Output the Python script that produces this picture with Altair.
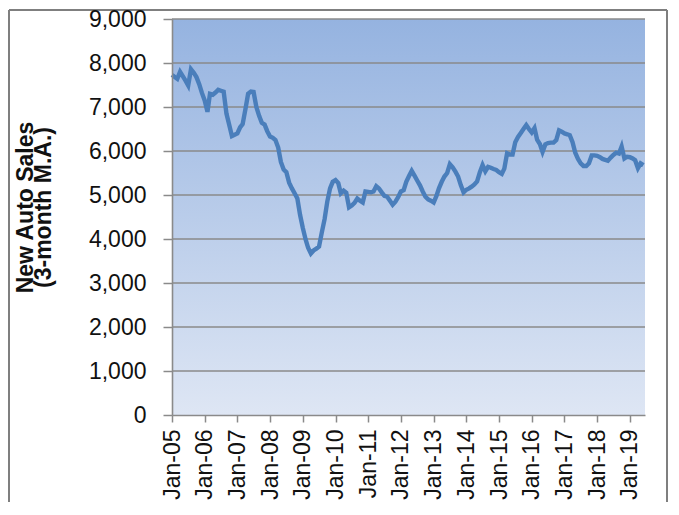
import altair as alt
import pandas as pd

# Monthly new auto sales, 3-month moving average (Jan-2005 .. Jun-2019)
sales_2005 = [7730, 7680, 7640, 7800, 7700, 7600, 7490, 7860, 7780, 7680, 7520, 7320]
sales_2006 = [7150, 6890, 7300, 7280, 7330, 7390, 7370, 7350, 6850, 6600, 6340, 6370]
sales_2007 = [6400, 6540, 6610, 6950, 7300, 7350, 7340, 7000, 6800, 6640, 6600, 6450]
sales_2008 = [6330, 6300, 6250, 6080, 5750, 5580, 5520, 5280, 5150, 5040, 4920, 4550]
sales_2009 = [4250, 3990, 3800, 3670, 3740, 3780, 3830, 4150, 4450, 4850, 5150, 5300]
sales_2010 = [5340, 5270, 5040, 5100, 5050, 4720, 4760, 4820, 4920, 4870, 4830, 5080]
sales_2011 = [5070, 5060, 5080, 5200, 5150, 5060, 4980, 4960, 4870, 4780, 4850, 4950]
sales_2012 = [5080, 5110, 5300, 5430, 5550, 5440, 5330, 5220, 5080, 4960, 4900, 4870]
sales_2013 = [4830, 4980, 5150, 5300, 5420, 5500, 5700, 5630, 5530, 5420, 5220, 5060]
sales_2014 = [5120, 5150, 5190, 5240, 5310, 5520, 5680, 5540, 5640, 5620, 5590, 5570]
sales_2015 = [5520, 5480, 5600, 5950, 5920, 5920, 6200, 6320, 6410, 6500, 6590, 6500]
sales_2016 = [6420, 6520, 6260, 6160, 5980, 6150, 6180, 6190, 6190, 6250, 6470, 6440]
sales_2017 = [6400, 6380, 6360, 6200, 5960, 5820, 5720, 5660, 5660, 5720, 5900, 5900]
sales_2018 = [5890, 5860, 5820, 5800, 5780, 5850, 5910, 5960, 5940, 6100, 5830, 5870]
sales_2019 = [5860, 5830, 5790, 5610, 5720, 5680]

tick_years = list(range(2005, 2020))
y_ticks = [0, 1000, 2000, 3000, 4000, 5000, 6000, 7000, 8000, 9000]
grid_vals = y_ticks[1:]

values = (sales_2005 + sales_2006 + sales_2007 + sales_2008 + sales_2009 + sales_2010
          + sales_2011 + sales_2012 + sales_2013 + sales_2014 + sales_2015 + sales_2016
          + sales_2017 + sales_2018 + sales_2019)
dates = pd.date_range("2005-01-01", periods=len(values), freq="MS")
df = pd.DataFrame({"date": dates, "sales": values})
grid_df = pd.DataFrame({"sales": grid_vals})

W, H = 473, 396
PL, PT, PR, PB = 164, 11, 24, 87

x_scale = alt.Scale(domain=[alt.DateTime(year=2005, month=1, date=1),
                            alt.DateTime(year=2019, month=6, date=19)])
y_scale = alt.Scale(domain=[0, 9000], nice=False)

y_axis = alt.Axis(values=y_ticks, format=",.0f", labelFont="Liberation Sans",
                  labelFontSize=23, labelColor="#111", labelPadding=17,
                  tickSize=9, tickColor="#8A8A8A", tickWidth=1.5,
                  domainColor="#8A8A8A", domainWidth=1.6, grid=False,
                  titleFont="Liberation Sans", titleFontSize=23,
                  titleFontWeight="bold", titleColor="#111",
                  titleLineHeight=18, titleAngle=270,
                  titleAlign="center", titleBaseline="middle",
                  titleX=-147, titleY=188, zindex=1)
y_title = ["New Auto Sales", "(3-month M.A.)"]

bg = alt.Chart(alt.Data(values=[{"a": 1}])).mark_rect(
    color=alt.Gradient(
        gradient="linear", x1=0, x2=0, y1=0, y2=1,
        stops=[alt.GradientStop(color="#95B3E0", offset=0),
               alt.GradientStop(color="#DEE6F4", offset=1)],
    )
).encode(x=alt.value(0), x2=alt.value(W), y=alt.value(0), y2=alt.value(H))

grid = alt.Chart(grid_df).mark_rule(color="#8A8A8A", strokeWidth=1.6).encode(
    y=alt.Y("sales:Q", scale=y_scale, title=y_title, axis=y_axis),
    x=alt.value(0), x2=alt.value(W),
)

line = alt.Chart(df).mark_line(color="#4A7EBB", strokeWidth=4.4).encode(
    x=alt.X("date:T", scale=x_scale, title=None,
            axis=alt.Axis(values=[alt.DateTime(year=y, month=1, date=1) for y in tick_years],
                          format="%b-%y", labelAngle=270, labelFont="Liberation Sans",
                          labelFontSize=23, labelColor="#111", labelPadding=7,
                          tickSize=7, tickColor="#8A8A8A", tickWidth=1.5,
                          domainColor="#8A8A8A", domainWidth=1.6, grid=False,
                          labelOverlap=False, zindex=1)),
    y=alt.Y("sales:Q", scale=y_scale, title=y_title, axis=y_axis),
)

frame_l = alt.Chart(alt.Data(values=[{"a": 1}])).mark_rule(color="#7F7F7F", strokeWidth=2).encode(
    x=alt.value(-163), y=alt.value(-9), y2=alt.value(H + PB))
frame_t = alt.Chart(alt.Data(values=[{"a": 1}])).mark_rule(color="#7F7F7F", strokeWidth=2).encode(
    x=alt.value(-163), x2=alt.value(W + PR - 2), y=alt.value(-9))
frame_r = alt.Chart(alt.Data(values=[{"a": 1}])).mark_rule(color="#7F7F7F", strokeWidth=2).encode(
    x=alt.value(W + PR - 2), y=alt.value(-9), y2=alt.value(H + PB))

chart = alt.layer(bg, grid, line, frame_l, frame_t, frame_r).properties(
    width=W, height=H,
    padding={"left": PL, "top": PT, "right": PR, "bottom": PB},
    autosize=alt.AutoSizeParams(type="none"),
    background="white",
).configure_view(stroke=None)

chart.save("out.html", embed_options={"renderer": "svg", "actions": False})
